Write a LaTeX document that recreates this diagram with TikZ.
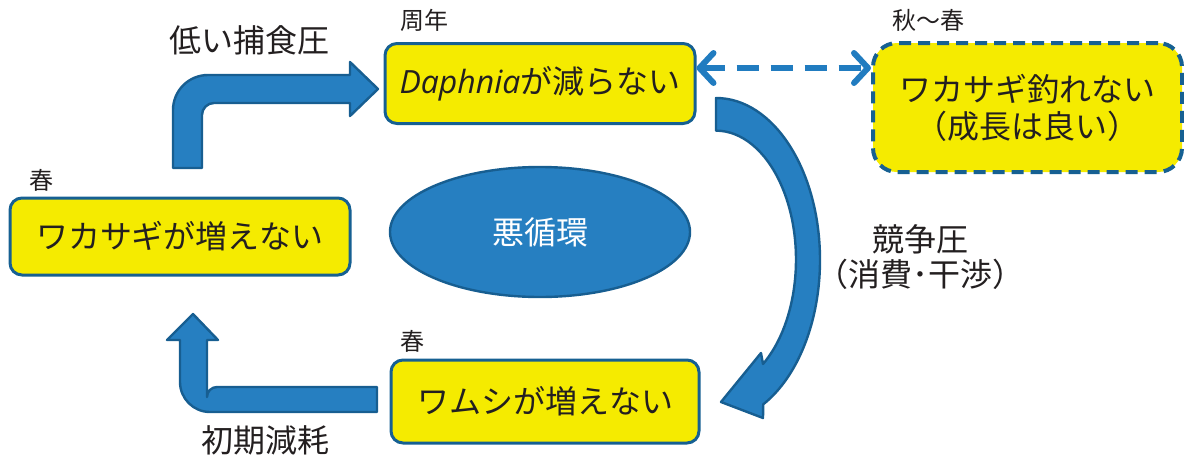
\documentclass[tikz,border=0pt]{standalone}
\usepackage{fontspec}
\setmainfont{Noto Sans CJK JP}
\newfontfamily\latinit{Open Sans}
\usetikzlibrary{shapes.geometric,arrows.meta}

\definecolor{boxyellow}{RGB}{245,235,0}
\definecolor{boxline}{RGB}{22,96,146}
\definecolor{arrowfill}{RGB}{38,127,193}
\definecolor{arrowline}{RGB}{23,94,145}
\definecolor{dashblue}{RGB}{33,124,192}
\definecolor{txt}{RGB}{35,31,32}

\tikzset{
  box/.style={draw=boxline, line width=1.5pt, fill=boxyellow, rounded corners=6pt,
    text=txt, font=\fontsize{16pt}{18.5pt}\selectfont, inner sep=0pt, align=center},
  tag/.style={text=txt, font=\fontsize{12pt}{14pt}\selectfont, inner sep=0pt},
  lbl/.style={text=txt, font=\fontsize{16pt}{17.5pt}\selectfont, inner sep=0pt, align=center},
  bigarrow/.style={fill=arrowfill, draw=arrowline, line width=1.2pt, line join=round},
  dasharrow/.style={draw=dashblue, line width=3pt, dash pattern=on 11pt off 6pt,
    {Straight Barb[length=7pt,width=15pt,round]}-{Straight Barb[length=7pt,width=15pt,round]}}
}

\begin{document}
\begin{tikzpicture}[x=0.5pt,y=-0.5pt]
  \useasboundingbox (0,0) rectangle (1184,461);

  % boxes
  \node[box, minimum width=155pt, minimum height=40pt] (daph) at (540,83.5)
    {{\latinit\itshape Daphnia}が減らない};
  \node[box, minimum width=170pt, minimum height=38.5pt] (smelt) at (180,236.5)
    {ワカサギが増えない};
  \node[box, minimum width=154pt, minimum height=41.5pt] (rotifer) at (545,401.5)
    {ワムシが増えない};
  \node[box, line width=2pt, dash pattern=on 6pt off 3.5pt, rounded corners=12pt,
    minimum width=154.5pt, minimum height=64.5pt] (catch) at (1027.5,107.5)
    {ワカサギ釣れない\\（成長は良い）};
  \node[ellipse, fill=arrowfill, draw=arrowline, line width=1.2pt, minimum width=150pt,
    minimum height=65pt, text=white, font=\fontsize{16pt}{18pt}\selectfont] (cyc) at (540,232)
    {悪循環};

  % season tags
  \node[tag] (tdaph) at (424,20) {周年};
  \node[tag] (tcatch) at (928,20) {秋～春};
  \node[tag] (tsmelt) at (41,180) {春};
  \node[tag] (trot) at (412,341) {春};

  % labels
  \node[lbl] (lpred) at (249,40) {低い捕食圧};
  \node[lbl] (lloss) at (265,440) {初期減耗};
  \node[lbl] (lcomp) at (920,257.5) {競争圧\\（消費･干渉）};

  % block arrows
  \filldraw[bigarrow] (173,168) -- (173,110) arc[start angle=180,end angle=270,radius=35]
    -- (350,75) -- (350,62) -- (378,89) -- (350,116) -- (350,103) -- (214,103)
    arc[start angle=270,end angle=180,radius=12] -- (202,168) -- cycle;
  \filldraw[bigarrow] (377,387) -- (217,387) arc[start angle=270,end angle=180,radius=10]
    -- (207,340) -- (218,340) -- (193,314) -- (167,340) -- (180,340) -- (180,382)
    arc[start angle=180,end angle=90,radius=30] -- (377,412) -- cycle;
  \filldraw[bigarrow] (716,98) arc[start angle=-90,end angle=63,x radius=104,y radius=162]
    -- (763,418) -- (721,402) -- (761,353) -- (763,364)
    arc[start angle=54,end angle=-90,x radius=80,y radius=129] -- cycle;

  % dashed link
  \draw[dasharrow] ([yshift=7.75pt]daph.east) -- ([yshift=7.75pt]daph.east -| catch.west);
\end{tikzpicture}
\end{document}
